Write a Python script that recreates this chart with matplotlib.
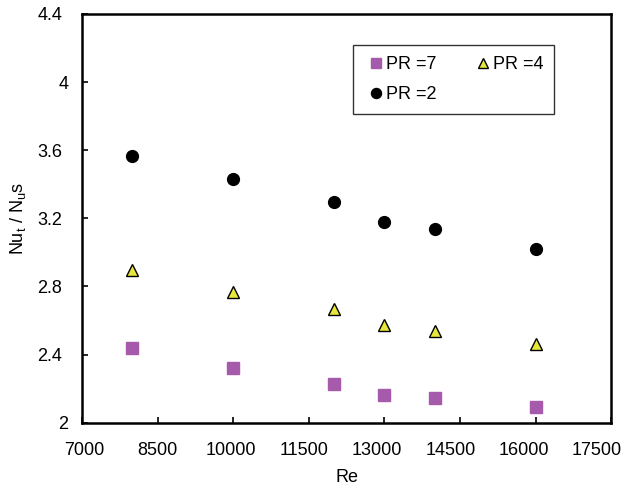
import matplotlib
matplotlib.use("Agg")
import matplotlib.pyplot as plt
from matplotlib.ticker import FuncFormatter
from matplotlib.transforms import ScaledTranslation

plt.rcParams['font.family'] = ['Liberation Sans', 'DejaVu Sans']
plt.rcParams['mathtext.fontset'] = 'custom'
plt.rcParams['mathtext.rm'] = 'Liberation Sans'
plt.rcParams['mathtext.it'] = 'Liberation Sans'

re_vals = [8000, 10000, 12000, 13000, 14000, 16000]
pr7 = [2.44, 2.32, 2.226, 2.161, 2.143, 2.09]
pr4 = [2.898, 2.765, 2.667, 2.576, 2.541, 2.463]
pr2 = [3.569, 3.431, 3.298, 3.178, 3.135, 3.022]

x_ticks = [7000, 8500, 10000, 11500, 13000, 14500, 16000, 17500]
y_ticks = [2, 2.4, 2.8, 3.2, 3.6, 4, 4.4]

FS = 13

fig = plt.figure(figsize=(6.27, 4.86), dpi=100)
ax = fig.add_axes([0.1308, 0.1302, 0.8442, 0.841])

h7, = ax.plot(re_vals, pr7, linestyle='none', marker='s', markersize=8,
              markerfacecolor='#A65AAB', markeredgecolor='#A65AAB', label='PR =7')
h4, = ax.plot(re_vals, pr4, linestyle='none', marker='^', markersize=8.5,
              markerfacecolor='#E6E63C', markeredgecolor='black', markeredgewidth=1.0,
              label='PR =4')
h2, = ax.plot(re_vals, pr2, linestyle='none', marker='o', markersize=8.5,
              markerfacecolor='black', markeredgecolor='black', label='PR =2')

ax.set_xlim(7000, 17500)
ax.set_ylim(2, 4.4)
ax.set_xticks(x_ticks)
ax.set_yticks(y_ticks)
ax.xaxis.set_major_formatter(FuncFormatter(lambda v, p: '%d' % v))
ax.yaxis.set_major_formatter(FuncFormatter(lambda v, p: '%g' % round(v, 2)))
ax.tick_params(direction='in', length=4, width=1.2, labelsize=FS,
               top=False, right=False)
ax.tick_params(axis='x', pad=14)
ax.tick_params(axis='y', pad=14.2)
for s in ax.spines.values():
    s.set_linewidth(1.8)

# Excel-like label placement quirks
fig.canvas.draw()
for i, lab in enumerate(ax.get_xticklabels()):
    dx = (2.0 - 2.33 * i) / 100.0
    lab.set_transform(lab.get_transform() + ScaledTranslation(dx, 0, fig.dpi_scale_trans))
for v, lab in zip(y_ticks, ax.get_yticklabels()):
    if float(v).is_integer():
        lab.set_transform(lab.get_transform() + ScaledTranslation(0.06, 0, fig.dpi_scale_trans))

ax.set_xlabel('Re', fontsize=FS, labelpad=7)
ax.set_ylabel(r'Nu$_{\mathrm{t}}$ / N$_{\mathrm{u}}$s', fontsize=FS, labelpad=7)

leg = ax.legend(handles=[h7, h2, h4], ncol=2, loc='upper left',
                bbox_to_anchor=(0.5114, 0.924), fontsize=FS, frameon=True,
                fancybox=False, edgecolor='black', handlelength=1.34,
                handletextpad=-0.1, columnspacing=1.9, borderpad=0.6,
                labelspacing=0.72, borderaxespad=0, markerscale=0.85)
leg.get_frame().set_linewidth(1.0)

fig.savefig('out.png', dpi=100)
